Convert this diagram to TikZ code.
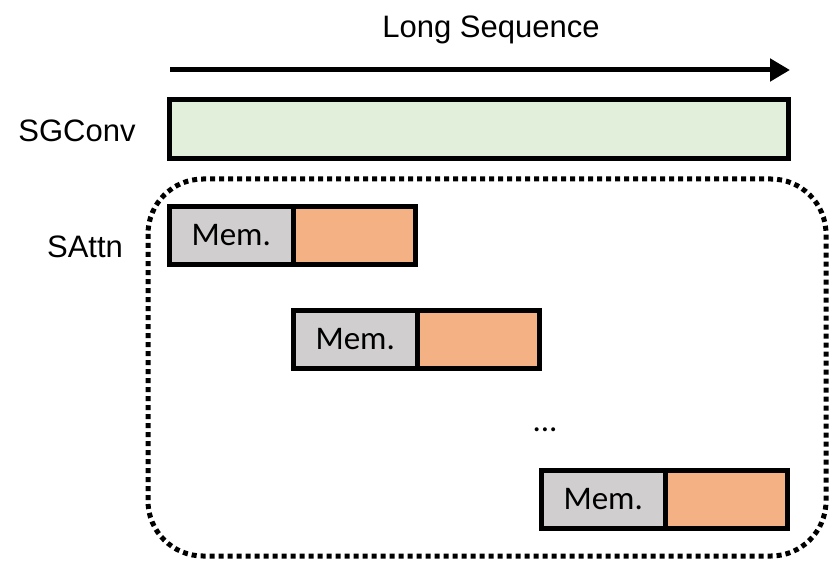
\documentclass[tikz,border=0pt]{standalone}
\usepackage{fontspec}
\setmainfont{Liberation Sans}
\newfontfamily\calib{Carlito}
\usetikzlibrary{arrows.meta}
\definecolor{sggreen}{HTML}{E2EFDA}
\definecolor{memgray}{HTML}{D0CECE}
\definecolor{attorange}{HTML}{F4B183}
\begin{document}
\begin{tikzpicture}[x=1pt,y=-1pt,
  lbl/.style={font=\fontsize{31}{36}\selectfont, inner sep=0pt},
  blk/.style={draw=black, line width=5pt, minimum height=58pt, inner sep=0pt, outer sep=0pt, anchor=center},
  memblk/.style={blk, fill=memgray, minimum width=123.5pt, font=\calib\fontsize{33}{38}\selectfont},
  attblk/.style={blk, fill=attorange, minimum width=122.5pt}]
\useasboundingbox (0,0) rectangle (830,564);
\node[lbl] (title) at (491,30) {Long Sequence};
\coordinate (a0) at (170,70);
\coordinate (a1) at (790,70);
\draw[line width=5pt, -{Triangle[length=20pt,width=22pt]}] (a0) -- (a1);
\node[lbl] (sgl) at (77,131) {SGConv};
\node[blk, fill=sggreen, minimum width=619pt, minimum height=59pt] (sg) at (479,129) {};
\node[lbl] (sal) at (85,247) {SAttn};
\draw[line width=5pt, dash pattern=on 5pt off 4pt, rounded corners=55pt] (148,179) rectangle (826,556);
\node[memblk] (m1) at (231.25,235.5) {Mem.};
\node[attblk] (o1) at (354.25,235.5) {};
\node[memblk] (m2) at (355.25,339.5) {Mem.};
\node[attblk] (o2) at (478.25,339.5) {};
\node[lbl, font=\calib\fontsize{33}{38}\selectfont] (dots) at (545,430) {...};
\node[memblk] (m3) at (603.25,499.5) {Mem.};
\node[attblk] (o3) at (726.25,499.5) {};
\end{tikzpicture}
\end{document}
